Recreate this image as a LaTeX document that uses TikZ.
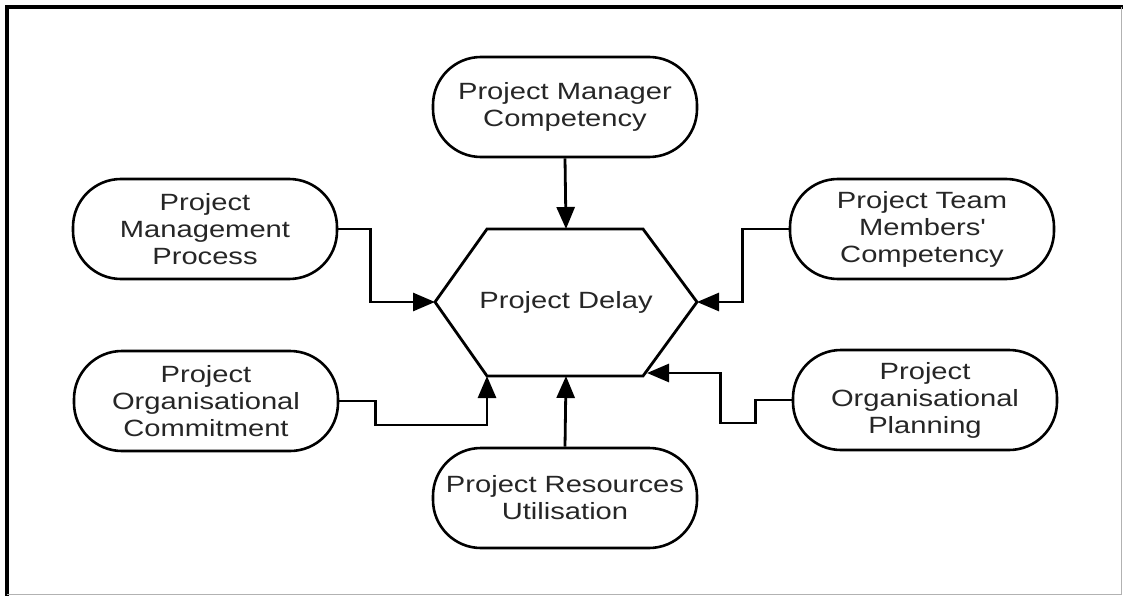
\documentclass[tikz,border=0pt]{standalone}
\usepackage{fontspec}
\setmainfont{Liberation Sans}[FakeStretch=1.24]
\usetikzlibrary{arrows.meta}
\begin{document}
\begin{tikzpicture}[x=1pt,y=-1pt,
  lbl/.style={font=\fontsize{23.5}{27}\selectfont, text=black!85},
  pill/.style={lbl, draw, line width=2.6pt, rounded corners=48pt, minimum width=264pt, minimum height=100pt, align=center, inner sep=0pt},
  conn/.style={line width=2.8pt, -{Triangle[length=22pt,width=18pt]}}]
\useasboundingbox (0,0) rectangle (1123,596);
% frame
\draw[line width=4pt] (7,596) -- (7,7) -- (1123,7);
\draw[line width=1pt, black!30] (1121.5,7) -- (1121.5,594.5) -- (7,594.5);
% hexagon
\coordinate (hL) at (435,302);
\coordinate (hTL) at (487,229);
\coordinate (hTR) at (643,229);
\coordinate (hR) at (697,302);
\coordinate (hBR) at (643,376);
\coordinate (hBL) at (487,376);
\coordinate (hT) at (566,229);
\coordinate (hB) at (566,376);
\coordinate (hBRa) at (647,373);
\draw[line width=2.8pt, line join=miter] (hL) -- (hTL) -- (hTR) -- (hR) -- (hBR) -- (hBL) -- cycle;
\node[lbl] (delay) at (566,302) {Project Delay};
% boxes
\node[pill] (pmc) at (565,107) {Project Manager\\Competency};
\node[pill] (pmp) at (205,229) {Project\\Management\\Process};
\node[pill] (ptmc) at (922,229) {Project Team\\Members\textquotesingle\\Competency};
\node[pill] (poc) at (206,401) {Project\\Organisational\\Commitment};
\node[pill] (pop) at (925,400) {Project\\Organisational\\Planning};
\node[pill] (pru) at (565,498) {Project Resources\\Utilisation};
% connectors
\draw[conn] (pmc.south) -- (hT);
\draw[conn] (pru.north) -- (hB);
\draw[conn] (pmp.east) -- ++(32,0) |- (hL);
\draw[conn] (ptmc.west) -- ++(-46,0) |- (hR);
\draw[conn] (poc.east) -- ++(36,0) -- ++(0,24) -| (hBL);
\draw[conn] (pop.west) -- ++(-36,0) -- ++(0,23) -- ++(-35,0) |- (hBRa);
\end{tikzpicture}
\end{document}
